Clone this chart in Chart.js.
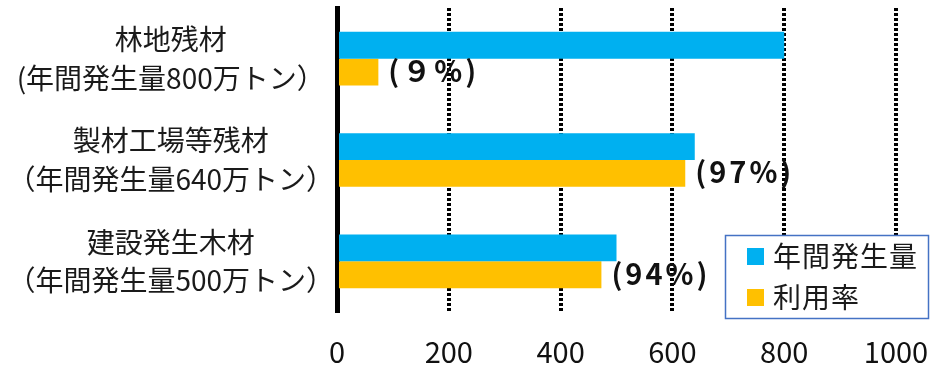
<!DOCTYPE html>
<html lang="ja">
<head>
<meta charset="utf-8">
<script src="https://cdn.jsdelivr.net/npm/chart.js@4.4.1/dist/chart.umd.min.js"></script>
<style>
  html, body { margin: 0; padding: 0; background: #fff; }
  #wrap { width: 947px; height: 367px; position: relative; }
</style>
</head>
<body>
<div id="wrap"><canvas id="chart"></canvas></div>
<script>
// Chart data
const categories = [
    ['林地残材', '(年間発生量800万トン）'],
    ['製材工場等残材', '（年間発生量640万トン）'],
    ['建設発生木材', '（年間発生量500万トン）']
];
const seriesNames = ['年間発生量', '利用率'];
const generated = [800, 640, 500];
const utilized = [74, 623, 473];
const rateLabels = ['(９%)', '(97%)', '(94%)'];
const xTicks = [0, 200, 400, 600, 800, 1000];

const FONT = "'Noto Sans CJK JP', sans-serif";
const BLUE = '#00B0F0';
const ORANGE = '#FFC000';

// percentage labels to the right of the orange bars
const rateLabelPlugin = {
    id: 'rateLabels',
    afterDatasetsDraw(chart) {
        const ctx = chart.ctx;
        const meta = chart.getDatasetMeta(1);
        ctx.save();
        ctx.font = `bold 29px ${FONT}`;
        ctx.letterSpacing = '3px';
        ctx.fillStyle = '#111';
        ctx.textBaseline = 'middle';
        meta.data.forEach((bar, i) => {
            ctx.fillText(rateLabels[i], bar.x + 10, bar.y - 1);
        });
        ctx.restore();
    }
};

// boxed legend inside the plot, bottom right
const boxLegend = {
    id: 'boxLegend',
    afterDraw(chart) {
        const ctx = chart.ctx;
        const x = 725, y = 235, w = 203, h = 83;
        ctx.save();
        ctx.fillStyle = '#fff';
        ctx.fillRect(x, y, w, h);
        ctx.strokeStyle = '#4472C4';
        ctx.lineWidth = 1.5;
        ctx.strokeRect(x + 0.5, y + 0.5, w, h);
        ctx.font = `28px ${FONT}`;
        ctx.letterSpacing = '1px';
        ctx.textBaseline = 'middle';
        chart.data.datasets.forEach((ds, i) => {
            const rowY = y + 21 + i * 41;
            ctx.fillStyle = ds.backgroundColor;
            ctx.fillRect(x + 22, rowY - 8, 17, 17);
            ctx.fillStyle = '#1a1a1a';
            ctx.fillText(ds.label, x + 48, rowY);
        });
        ctx.restore();
    }
};

Chart.defaults.font.family = FONT;

new Chart(document.getElementById('chart'), {
    type: 'bar',
    data: {
        labels: categories,
        datasets: [
            { label: seriesNames[0], data: generated, backgroundColor: BLUE },
            { label: seriesNames[1], data: utilized, backgroundColor: ORANGE }
        ]
    },
    options: {
        indexAxis: 'y',
        responsive: true,
        maintainAspectRatio: false,
        animation: false,
        barPercentage: 1,
        categoryPercentage: 0.53,
        layout: { padding: { left: 0, right: 51, top: 8, bottom: 0 } },
        plugins: {
            legend: { display: false },
            tooltip: { enabled: false }
        },
        scales: {
            x: {
                min: 0,
                max: 1000,
                afterBuildTicks: s => { s.ticks = xTicks.map(v => ({ value: v })); },
                afterFit: s => { s.height = 55; s.paddingLeft = 0; s.paddingRight = 0; },
                grid: {
                    color: c => c.index === 0 ? 'rgba(0,0,0,0)' : '#000',
                    lineWidth: 4,
                    drawTicks: false
                },
                border: { display: false, dash: [3, 2] },
                ticks: {
                    color: '#111',
                    padding: 24,
                    callback: v => String(v),
                    font: { size: 29, lineHeight: 1.1 }
                }
            },
            y: {
                afterFit: s => { s.width = 337; s.paddingTop = 0; s.paddingBottom = 0; },
                grid: { display: false, drawTicks: false },
                border: { display: true, color: '#000', width: 5 },
                ticks: {
                    color: '#1a1a1a',
                    crossAlign: 'center',
                    padding: 3,
                    font: { size: 28, lineHeight: 1.375 }
                }
            }
        }
    },
    plugins: [rateLabelPlugin, boxLegend]
});
</script>
</body>
</html>
